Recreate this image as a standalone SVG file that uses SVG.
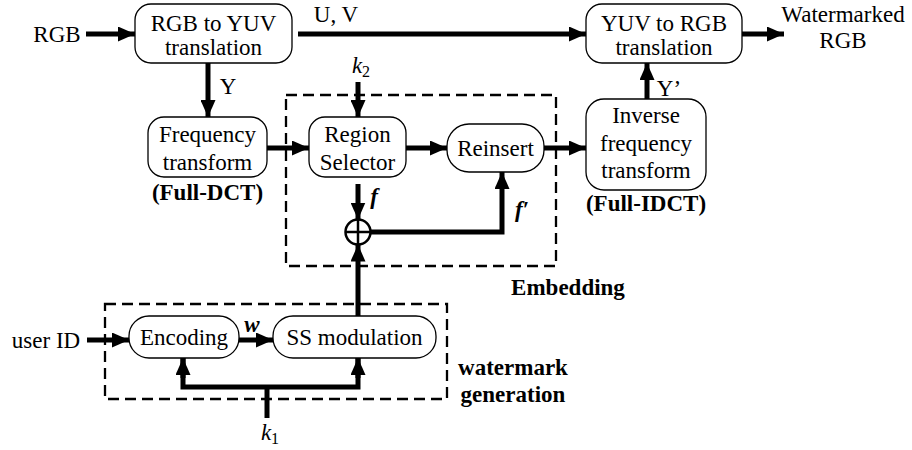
<svg xmlns="http://www.w3.org/2000/svg" width="912" height="450" viewBox="0 0 912 450" font-family="'Liberation Serif', 'Times New Roman', Times, 'DejaVu Serif', serif">
<defs>
<style>
text{font-family:'Liberation Serif','Times New Roman',Times,'DejaVu Serif',serif}
.box{fill:#fff;stroke:#000;stroke-width:1.3}
.t{font-size:23px;fill:#000;text-anchor:middle}
.b{font-weight:bold}
.i{font-style:italic}
.w{stroke:#000;stroke-width:5;fill:none}
.d{stroke:#000;stroke-width:2.3;fill:none;stroke-dasharray:11 6}
</style>
<marker id="ah" markerUnits="userSpaceOnUse" markerWidth="18" markerHeight="15" refX="17" refY="7.5" orient="auto">
<path d="M0,0 L17,7.5 L0,15 z" fill="#000"/>
</marker>
</defs>
<rect width="912" height="450" fill="#fff"/>
<g id="groups">
<rect id="embedding-box" class="d" x="286" y="95" width="270" height="171"/>
<text class="t b" x="568" y="295">Embedding</text>
<rect id="wmgen-box" class="d" x="105" y="304" width="342" height="95"/>
<text class="t b" x="513" y="375">watermark</text>
<text class="t b" x="513" y="402">generation</text>
</g>
<g id="connectors">
<line class="w" x1="86" y1="34" x2="135" y2="34" marker-end="url(#ah)"/>
<line class="w" x1="298" y1="34" x2="586" y2="34" marker-end="url(#ah)"/>
<line class="w" x1="742" y1="34" x2="784" y2="34" marker-end="url(#ah)"/>
<line class="w" x1="208" y1="63" x2="208" y2="117" marker-end="url(#ah)"/>
<line class="w" x1="647" y1="99" x2="647" y2="63" marker-end="url(#ah)"/>
<line class="w" x1="358" y1="82" x2="358" y2="117" marker-end="url(#ah)"/>
<line class="w" x1="267" y1="148" x2="309" y2="148" marker-end="url(#ah)"/>
<line class="w" x1="406" y1="148" x2="447" y2="148" marker-end="url(#ah)"/>
<line class="w" x1="544" y1="148" x2="586" y2="148" marker-end="url(#ah)"/>
<line class="w" x1="358" y1="184" x2="358" y2="219.5" marker-end="url(#ah)"/>
<polyline class="w" points="370.5,232 502,232 502,172" marker-end="url(#ah)"/>
<line class="w" x1="358" y1="316" x2="358" y2="244.5" marker-end="url(#ah)"/>
<line class="w" x1="87" y1="340" x2="129" y2="340" marker-end="url(#ah)"/>
<line class="w" x1="239" y1="340" x2="273" y2="340" marker-end="url(#ah)"/>
<line class="w" x1="267" y1="418" x2="267" y2="387"/>
<polyline class="w" points="183,358 183,387 358,387 358,358"/>
<line class="w" x1="183" y1="378" x2="183" y2="358" marker-end="url(#ah)"/>
<line class="w" x1="358" y1="378" x2="358" y2="358" marker-end="url(#ah)"/>
<circle cx="358" cy="232" r="12.5" fill="#fff" stroke="#000" stroke-width="2.5"/>
<line x1="345.5" y1="232" x2="370.5" y2="232" stroke="#000" stroke-width="2.5"/>
<line x1="358" y1="219.5" x2="358" y2="244.5" stroke="#000" stroke-width="2.5"/>
</g>
<g id="labels">
<text class="t" x="57" y="42">RGB</text>
<text class="t" x="336" y="22">U, V</text>
<text class="t" x="228" y="94">Y</text>
<text class="t" x="669" y="96">Y’</text>
<text class="t i" x="361" y="73">k<tspan font-size="16" font-style="normal" dy="4">2</tspan></text>
<text class="t i b" x="374" y="204">f</text>
<text class="t i b" x="522" y="217">f′</text>
<text class="t i b" x="252" y="332">w</text>
<text class="t" x="46" y="348">user ID</text>
<text class="t i" x="270" y="440">k<tspan font-size="16" font-style="normal" dy="4">1</tspan></text>
<text class="t" x="843" y="22">Watermarked</text>
<text class="t" x="843" y="48">RGB</text>
</g>
<g id="rgb2yuv">
<rect class="box" x="135" y="4" width="157" height="59" rx="16"/>
<text class="t" x="213.5" y="31">RGB to YUV</text>
<text class="t" x="213.5" y="55">translation</text>
</g>
<g id="yuv2rgb">
<rect class="box" x="586" y="4" width="156" height="59" rx="16"/>
<text class="t" x="664" y="31">YUV to RGB</text>
<text class="t" x="664" y="55">translation</text>
</g>
<g id="freq">
<rect class="box" x="148" y="117" width="119" height="60" rx="16"/>
<text class="t" x="207.5" y="142">Frequency</text>
<text class="t" x="207.5" y="170">transform</text>
<text class="t b" x="207.5" y="200">(Full-DCT)</text>
</g>
<g id="region">
<rect class="box" x="309" y="117" width="97" height="60" rx="16"/>
<text class="t" x="357.5" y="142">Region</text>
<text class="t" x="357.5" y="170">Selector</text>
</g>
<g id="reinsert">
<rect class="box" x="447" y="124" width="97" height="48" rx="22"/>
<text class="t" x="495.5" y="156">Reinsert</text>
</g>
<g id="inverse">
<rect class="box" x="586" y="99" width="120" height="91" rx="18"/>
<text class="t" x="646" y="123">Inverse</text>
<text class="t" x="646" y="151">frequency</text>
<text class="t" x="646" y="178">transform</text>
<text class="t b" x="646" y="211">(Full-IDCT)</text>
</g>
<g id="encoding">
<rect class="box" x="129" y="316" width="110" height="42" rx="20"/>
<text class="t" x="184" y="345">Encoding</text>
</g>
<g id="ssmod">
<rect class="box" x="273" y="316" width="163" height="42" rx="20"/>
<text class="t" x="354.5" y="345">SS modulation</text>
</g>
</svg>
